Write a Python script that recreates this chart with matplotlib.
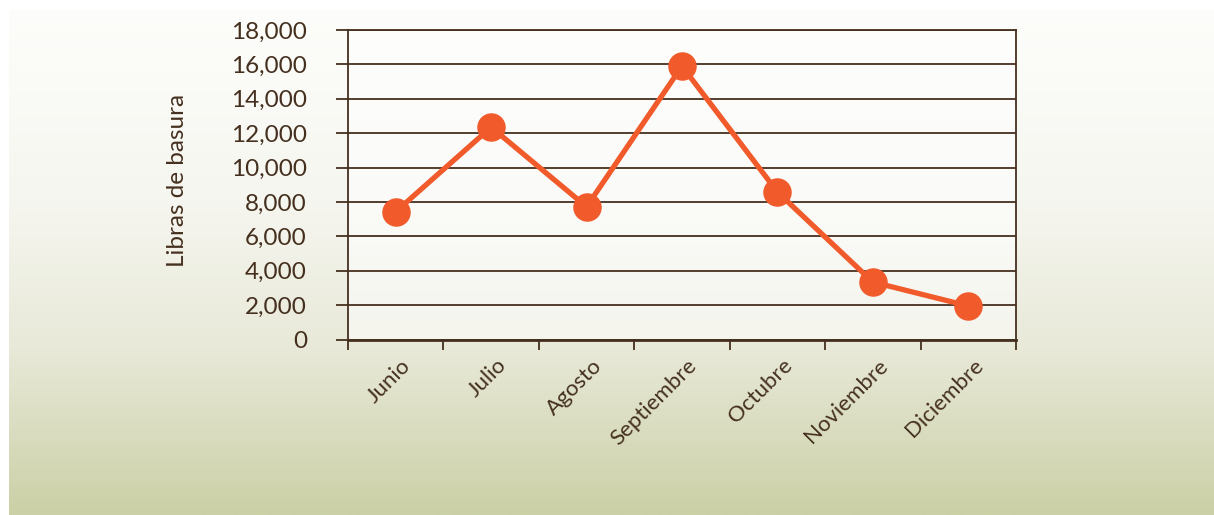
import numpy as np
import matplotlib.pyplot as plt
from matplotlib.colors import LinearSegmentedColormap
from matplotlib.transforms import ScaledTranslation

# datos
meses = ["Junio", "Julio", "Agosto", "Septiembre", "Octubre", "Noviembre", "Diciembre"]
libras = [7430, 12350, 7720, 15900, 8580, 3340, 1950]
y_ticks = [0, 2000, 4000, 6000, 8000, 10000, 12000, 14000, 16000, 18000]

marron = "#45301f"
naranja = "#f15a2b"

plt.rcParams['font.family'] = ['Lato', 'DejaVu Sans']

fig = plt.figure(figsize=(12.14, 5.15), dpi=100)
fig.patch.set_facecolor("white")

# fondo degradado
bg = fig.add_axes([9 / 1214, 0, 1 - 9 / 1214, 1 - 10 / 515], zorder=0)
cmap = LinearSegmentedColormap.from_list(
    "fondo",
    [(0.0, "#fdfdfb"), (0.38, "#f6f6f0"), (0.67, "#e8e9d8"), (1.0, "#cbd0a6")])
grad = np.linspace(0, 1, 256).reshape(-1, 1)
bg.imshow(grad, aspect="auto", cmap=cmap, extent=[0, 1, 1, 0])
bg.set_axis_off()

ax = fig.add_axes([348 / 1214, 1 - 339.5 / 515, 668 / 1214, 309.5 / 515], zorder=1)
ax.set_facecolor((1, 1, 1, 0.55))

x = np.arange(len(meses))
ax.plot(x, libras, color=naranja, lw=3.8, marker="o", markersize=19.5,
        solid_capstyle="round", zorder=3, clip_on=False)

ax.set_xlim(-0.5, len(meses) - 0.5)
ax.set_ylim(0, 18000)
ax.set_yticks(y_ticks)
ax.set_yticklabels([f"{v:,}" for v in y_ticks])
ax.yaxis.grid(True, color=marron, lw=1.3)
ax.set_axisbelow(True)

ax.set_xticks(np.arange(-0.5, len(meses), 1))
ax.set_xticklabels([])
ax.set_xticks(x, minor=True)
ax.set_xticklabels(meses, minor=True, rotation=45, ha="right", va="center",
                   rotation_mode="anchor")
ax.tick_params(axis="x", which="major", length=7.5, width=1.3, color=marron)
ax.tick_params(axis="x", which="minor", length=0, pad=16.5, labelsize=16,
               labelcolor=marron)
ax.tick_params(axis="y", length=8.6, width=1.3, color=marron, pad=21,
               labelsize=17.5, labelcolor=marron)

desplaza = ScaledTranslation(12 / 100, 0, fig.dpi_scale_trans)
for lab in ax.get_xticklabels(minor=True):
    lab.set_transform(lab.get_transform() + desplaza)

for s in ax.spines.values():
    s.set_color(marron)
    s.set_linewidth(1.3)
ax.spines["bottom"].set_linewidth(2)

ax.set_ylabel("Libras de basura", fontsize=17.5, color=marron)
ax.yaxis.set_label_coords(-0.239, 0.515)

fig.savefig("out.png", dpi=100)
